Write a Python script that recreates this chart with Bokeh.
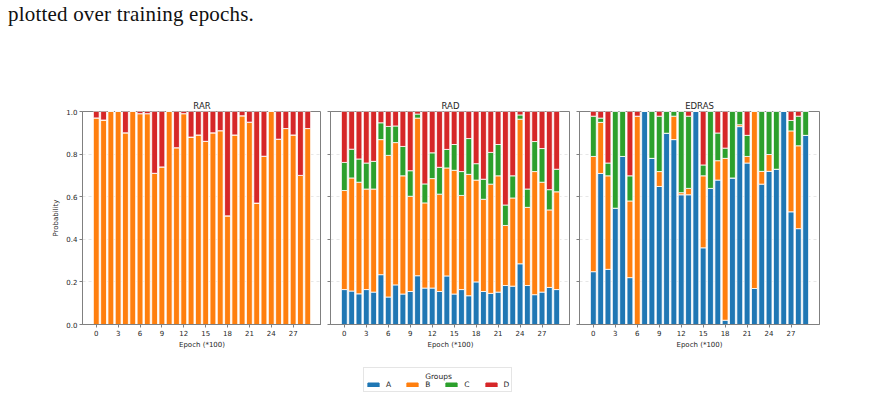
from bokeh.plotting import figure
from bokeh.models import (ColumnDataSource, Legend, LegendItem, FixedTicker, Div, Label,
                          Range1d, NumeralTickFormatter, CustomJSTickFormatter)
from bokeh.layouts import column, row
from bokeh.embed import file_html
from bokeh.resources import INLINE

groups = ["A", "B", "C", "D"]
colors = ["#1f77b4", "#ff7f0e", "#2ca02c", "#d62728"]
epochs = list(range(30))
x_ticks = [0, 3, 6, 9, 12, 15, 18, 21, 24, 27]
y_ticks = [0.0, 0.2, 0.4, 0.6, 0.8, 1.0]
titles = ["RAR", "RAD", "EDRAS"]

# ---- RAR ----
RAR_A = [0.0] * 30
RAR_B = [0.97, 0.96, 1.00, 1.00, 0.90, 1.00, 0.99, 0.99, 0.71, 0.74,
         1.00, 0.83, 0.99, 0.88, 0.89, 0.86, 0.90, 0.91, 0.51, 0.89,
         0.98, 0.95, 0.57, 0.79, 1.00, 0.87, 0.92, 0.89, 0.70, 0.92]
RAR_C = [0.0] * 30
RAR_D = [0.03, 0.04, 0.00, 0.00, 0.10, 0.00, 0.01, 0.01, 0.29, 0.26,
         0.00, 0.17, 0.01, 0.12, 0.11, 0.14, 0.10, 0.09, 0.49, 0.11,
         0.02, 0.05, 0.43, 0.21, 0.00, 0.13, 0.08, 0.11, 0.30, 0.08]

# ---- RAD ----
RAD_A = [0.164, 0.157, 0.144, 0.164, 0.152, 0.234, 0.129, 0.186, 0.143, 0.155,
         0.229, 0.171, 0.171, 0.155, 0.228, 0.143, 0.164, 0.135, 0.200, 0.155,
         0.146, 0.152, 0.183, 0.180, 0.285, 0.183, 0.140, 0.152, 0.174, 0.164]
RAD_B = [0.465, 0.531, 0.524, 0.472, 0.484, 0.634, 0.665, 0.668, 0.555, 0.447,
         0.740, 0.400, 0.514, 0.457, 0.507, 0.581, 0.442, 0.570, 0.478, 0.433,
         0.513, 0.546, 0.282, 0.414, 0.679, 0.367, 0.578, 0.516, 0.364, 0.459]
RAD_C = [0.132, 0.135, 0.109, 0.122, 0.130, 0.079, 0.136, 0.078, 0.138, 0.120,
         0.019, 0.089, 0.121, 0.126, 0.087, 0.121, 0.112, 0.168, 0.077, 0.094,
         0.149, 0.147, 0.096, 0.104, 0.020, 0.086, 0.141, 0.158, 0.095, 0.106]
RAD_D = [0.239, 0.177, 0.223, 0.242, 0.234, 0.053, 0.070, 0.068, 0.164, 0.278,
         0.012, 0.340, 0.194, 0.262, 0.178, 0.155, 0.282, 0.127, 0.245, 0.318,
         0.192, 0.155, 0.439, 0.302, 0.016, 0.364, 0.141, 0.174, 0.367, 0.271]

# ---- EDRAS ----
EDRAS_A = [0.248, 0.709, 0.259, 0.546, 0.789, 0.220, 0.000, 1.000, 0.780, 0.648,
           0.898, 0.868, 0.609, 0.609, 1.000, 0.360, 0.639, 0.678, 0.020, 0.688,
           0.929, 0.758, 0.169, 0.659, 0.719, 0.729, 1.000, 0.529, 0.450, 0.888]
EDRAS_B = [0.541, 0.240, 0.439, 0.000, 0.000, 0.360, 0.978, 0.000, 0.000, 0.070,
           0.000, 0.110, 0.010, 0.030, 0.000, 0.338, 0.000, 0.091, 0.760, 0.000,
           0.009, 0.031, 0.831, 0.060, 0.079, 0.000, 0.000, 0.380, 0.389, 0.000]
EDRAS_C = [0.189, 0.020, 0.060, 0.454, 0.211, 0.118, 0.000, 0.000, 0.220, 0.260,
           0.102, 0.022, 0.381, 0.339, 0.000, 0.051, 0.361, 0.130, 0.048, 0.312,
           0.062, 0.099, 0.000, 0.281, 0.202, 0.271, 0.000, 0.049, 0.139, 0.112]
EDRAS_D = [0.022, 0.031, 0.242, 0.000, 0.000, 0.302, 0.022, 0.000, 0.000, 0.022,
           0.000, 0.000, 0.000, 0.022, 0.000, 0.251, 0.000, 0.101, 0.172, 0.000,
           0.000, 0.112, 0.000, 0.000, 0.000, 0.000, 0.000, 0.042, 0.022, 0.000]

datasets = [
    (RAR_A, RAR_B, RAR_C, RAR_D),
    (RAD_A, RAD_B, RAD_C, RAD_D),
    (EDRAS_A, EDRAS_B, EDRAS_C, EDRAS_D),
]

FONT = "DejaVu Sans"
TXT = "#262626"
SPINE = "#808080"

FRAME_H = 215
TOP = 30
BOTTOM = 25

sources = []

def make_panel(idx, title, data, left, frame_w, right):
    p = figure(width=left + frame_w + right, height=TOP + FRAME_H + BOTTOM,
               x_range=Range1d(-1.89, 30.89), y_range=Range1d(0, 1),
               output_backend="svg", toolbar_location=None,
               min_border_left=left, min_border_right=right,
               min_border_top=TOP, min_border_bottom=BOTTOM)
    p.title.text = title
    p.title.align = "center"
    p.title.text_font = FONT
    p.title.text_font_size = "8.5px"
    p.title.text_font_style = "normal"
    p.title.text_color = TXT
    p.title.standoff = 2
    src = ColumnDataSource(dict(epoch=epochs, A=data[0], B=data[1], C=data[2], D=data[3]))
    sources.append(src)
    p.vbar_stack(groups, x="epoch", width=0.8, source=src,
                 fill_color=colors, line_color="white", line_width=0.8)
    p.outline_line_color = SPINE
    p.outline_line_width = 1
    p.xgrid.visible = False
    p.ygrid.grid_line_color = "#b0b0b0"
    p.ygrid.grid_line_alpha = 0.5
    p.ygrid.grid_line_dash = "3 3"
    p.ygrid.grid_line_width = 0.6
    p.ygrid.ticker = FixedTicker(ticks=y_ticks)
    for ax in (p.xaxis[0], p.yaxis[0]):
        ax.axis_line_color = SPINE
        ax.major_tick_line_color = SPINE
        ax.major_tick_out = 3
        ax.major_tick_in = 0
        ax.minor_tick_line_color = None
        ax.major_label_text_font = FONT
        ax.major_label_text_font_size = "7px"
        ax.major_label_text_color = TXT
        ax.axis_label_text_font = FONT
        ax.axis_label_text_font_size = "7px"
        ax.axis_label_text_font_style = "normal"
        ax.axis_label_text_color = TXT
    p.xaxis.ticker = FixedTicker(ticks=x_ticks)
    p.xaxis.major_label_standoff = 2
    p.xaxis.axis_label = "Epoch (*100)"
    p.xaxis.axis_label_standoff = 2
    p.yaxis.ticker = FixedTicker(ticks=y_ticks)
    if idx == 0:
        p.yaxis.formatter = NumeralTickFormatter(format="0.0")
        p.yaxis.major_label_standoff = 2
        p.yaxis.axis_label = "Probability"
        p.yaxis.axis_label_standoff = 3
    else:
        p.yaxis.formatter = CustomJSTickFormatter(code="return '';")
        p.yaxis.major_label_standoff = 0
    return p

p1 = make_panel(0, titles[0], datasets[0], 82, 239, 0)
p2 = make_panel(1, titles[1], datasets[1], 9, 240, 0)
p3 = make_panel(2, titles[2], datasets[2], 9, 240, 10)

# legend figure (legend swatches come from the RAR stack, drawn out of view)
pl = figure(width=865, height=41, x_range=Range1d(-100, -99), y_range=Range1d(0, 1),
            output_backend="svg", toolbar_location=None,
            min_border_left=0, min_border_right=0, min_border_top=0, min_border_bottom=0)
pl.axis.visible = False
pl.grid.visible = False
pl.outline_line_color = None
rs = pl.vbar_stack(groups, x="epoch", width=0.8, source=sources[0],
                   fill_color=colors, line_color=colors)
items = [LegendItem(label=g, renderers=[r]) for g, r in zip(groups, rs)]
leg = Legend(items=items, orientation="horizontal", location=(363, 0),
             title=" ", margin=0, padding=2, spacing=14,
             glyph_width=14, glyph_height=5, label_standoff=6, label_width=5,
             label_height=7,
             label_text_font=FONT, label_text_font_size="7.5px", label_text_color=TXT,
             title_text_font=FONT, title_text_font_size="7px", title_text_color=TXT,
             title_text_font_style="normal", title_standoff=2,
             border_line_color="#cccccc", border_line_width=0.8,
             background_fill_alpha=0)
pl.add_layout(leg, "center")
grp_label = Label(x=438, y=16, x_units="screen", y_units="screen", text="Groups",
                  text_align="center", text_baseline="middle",
                  text_font=FONT, text_font_size="7.5px", text_color=TXT)
grp_label.level = "overlay"
pl.add_layout(grp_label)

div = Div(text="<div style=\"position:relative; top:4px; left:8px; font-family:'Liberation Serif'; "
               "font-size:21px; line-height:20px; letter-spacing:0.2px; color:#111; "
               "white-space:nowrap;\">plotted over training epochs.</div>",
          width=865, height=81, margin=0)

layout = column(div, row(p1, p2, p3, spacing=0), pl, spacing=0)

open("out.html", "w").write(file_html(layout, INLINE))
